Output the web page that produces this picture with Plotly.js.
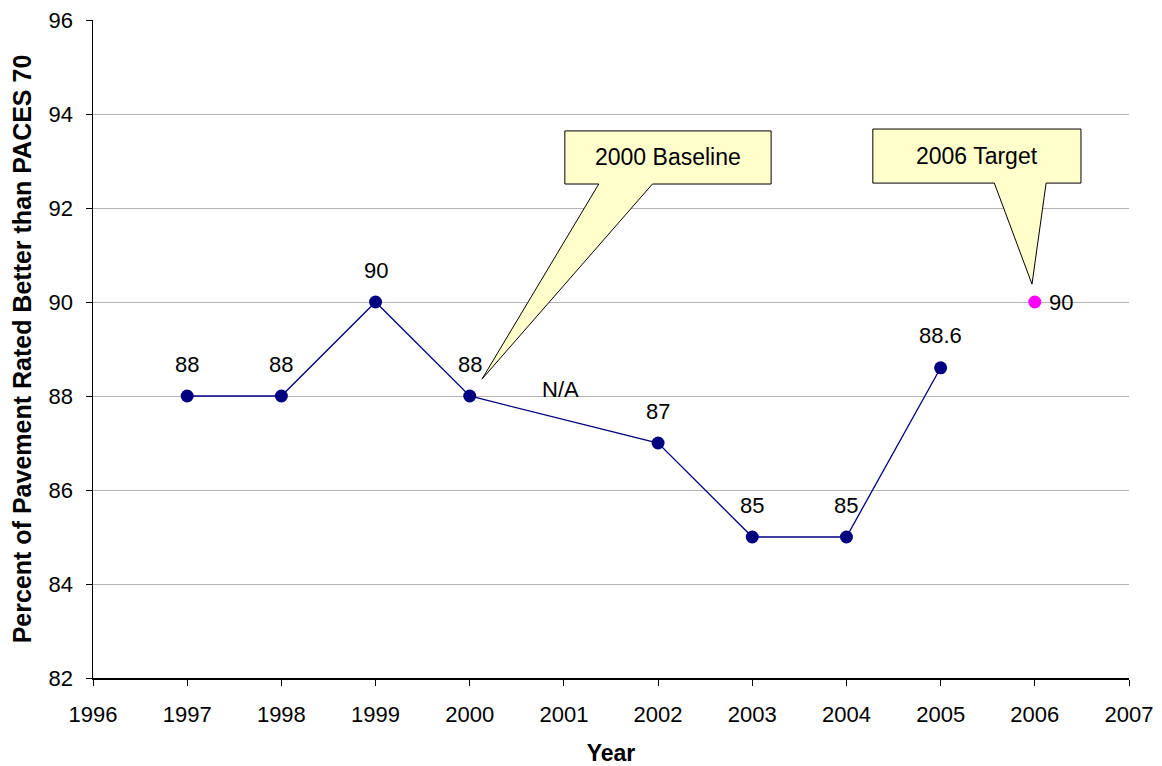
<!DOCTYPE html>
<html>
<head>
<meta charset="utf-8">
<script src="https://cdn.plot.ly/plotly-3.0.1.min.js"></script>
<style>html,body{margin:0;padding:0;background:#fff;}#chart{width:1162px;height:766px;}</style>
</head>
<body>
<div id="chart"></div>
<script>
// Pavement condition by year (2001 not surveyed)
const years = [1997, 1998, 1999, 2000, 2001, 2002, 2003, 2004, 2005];
const percentRated = [88, 88, 90, 88, null, 87, 85, 85, 88.6];
const valueLabels = ['88', '88', '90', '88', '', '87', '85', '85', '88.6'];
const targetYear = [2006];
const targetValue = [90];
const missingLabel = 'N/A';
const yTicks = [82, 84, 86, 88, 90, 92, 94, 96];
const xTicks = [1996, 1997, 1998, 1999, 2000, 2001, 2002, 2003, 2004, 2005, 2006, 2007];

const FONT = 'Liberation Sans, Arial, sans-serif';
const LABEL_SIZE = 22;

const actual = {
  x: years, y: percentRated, type: 'scatter', mode: 'lines+markers',
  connectgaps: true,
  line: {color: '#000080', width: 1.3},
  marker: {color: '#000080', size: 13},
  hoverinfo: 'x+y'
};
const target = {
  x: targetYear, y: targetValue, type: 'scatter', mode: 'markers',
  marker: {color: '#FF00FF', size: 13},
  hoverinfo: 'x+y'
};

const annotations = [];
years.forEach((yr, i) => {
  if (percentRated[i] === null) return;
  annotations.push({x: yr, y: percentRated[i], text: valueLabels[i], showarrow: false,
    yshift: 32, font: {family: FONT, size: LABEL_SIZE, color: '#000'}});
});
annotations.push({x: targetYear[0], y: targetValue[0], text: String(targetValue[0]), showarrow: false,
  xanchor: 'left', xshift: 12, font: {family: FONT, size: LABEL_SIZE, color: '#000'}});
// the skipped year gets a marker-less note beside the connecting line
annotations.push({x: 2001, y: 88, text: missingLabel, showarrow: false, xshift: -3, yshift: 7,
  font: {family: FONT, size: LABEL_SIZE, color: '#000'}});

// callout boxes with pointers (data coordinates)
function callout(x0, x1, y0, y1, b0, b1, tx, ty) {
  return {type: 'path', xref: 'x', yref: 'y',
    path: `M${x0},${y0} L${b0},${y0} L${tx},${ty} L${b1},${y0} L${x1},${y0} L${x1},${y1} L${x0},${y1} Z`,
    fillcolor: '#FFFFCC', line: {color: '#000', width: 1}, layer: 'above'};
}
const shapes = [
  callout(2001.01, 2003.20, 92.51, 93.64, 2001.37, 2001.94, 2000.13, 88.36),
  callout(2004.28, 2006.49, 92.53, 93.68, 2005.57, 2006.12, 2005.97, 90.38)
];
annotations.push({x: 2002.105, y: 93.08, text: '2000 Baseline', showarrow: false,
  font: {family: FONT, size: 23, color: '#000'}});
annotations.push({x: 2005.385, y: 93.1, text: '2006 Target', showarrow: false,
  font: {family: FONT, size: 23, color: '#000'}});

const layout = {
  width: 1162, height: 766,
  margin: {l: 93, r: 33, t: 20, b: 88},
  paper_bgcolor: '#fff', plot_bgcolor: '#fff',
  showlegend: false,
  font: {family: FONT, size: 22, color: '#000'},
  xaxis: {
    range: [1996, 2007], tickvals: xTicks, ticktext: xTicks.map(String),
    showgrid: false, zeroline: false,
    showline: true, linecolor: '#000', linewidth: 1.5,
    ticks: 'outside', ticklen: 6, tickcolor: '#000',
    ticklabelstandoff: 10,
    tickfont: {family: FONT, size: 22},
    title: {text: '<b>Year</b>', font: {family: FONT, size: 23}, standoff: 19}
  },
  yaxis: {
    range: [82, 96], tickvals: yTicks,
    showgrid: true, gridcolor: '#b4b4b4', gridwidth: 1, zeroline: false,
    showline: true, linecolor: '#000', linewidth: 1.5,
    ticks: 'outside', ticklen: 6, tickcolor: '#000',
    ticklabelstandoff: 8,
    tickfont: {family: FONT, size: 22},
    title: {text: '<b>Percent of Pavement Rated Better than PACES 70</b>', font: {family: FONT, size: 25}, standoff: 10}
  },
  shapes: shapes,
  annotations: annotations
};

Plotly.newPlot('chart', [actual, target], layout, {displayModeBar: false, staticPlot: true});
</script>
</body>
</html>
